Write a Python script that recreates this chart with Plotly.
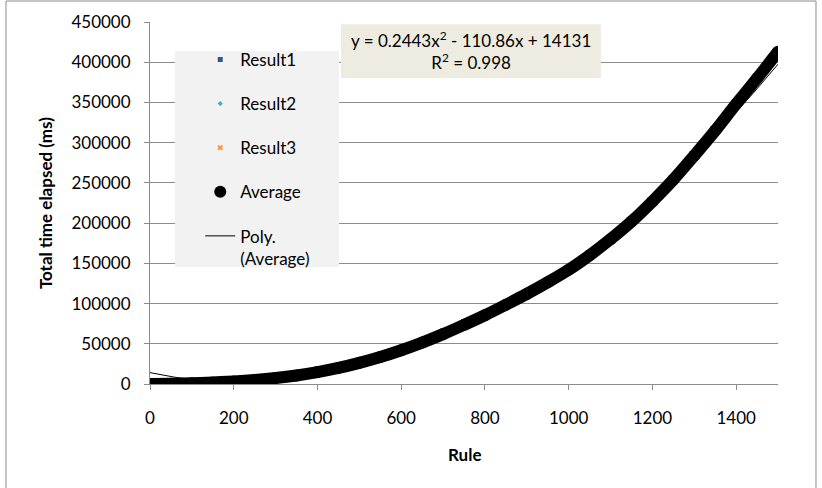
import numpy as np
import plotly.graph_objects as go

rule = [0, 50, 100, 150, 200, 250, 300, 350, 400, 450, 500, 550, 600, 650, 700, 750,
        800, 850, 900, 950, 1000, 1050, 1100, 1150, 1200, 1250, 1300, 1350, 1400, 1450, 1500]
average = [0, 400, 1000, 1900, 3200, 5000, 7400, 10600, 14800, 20000, 26300, 33600, 42000,
           51500, 62000, 73500, 85500, 98500, 112000, 126500, 142000, 160000, 180000, 202000,
           227000, 254000, 284000, 315000, 348000, 380000, 413000]
result1 = [0, 410, 980, 1950, 3150, 5100, 7300, 10800, 14600, 20300, 26100, 33900, 41700,
           51900, 61700, 73900, 85100, 99000, 111600, 127000, 141500, 160600, 179500, 202600,
           226400, 254600, 283500, 315600, 347400, 380600, 412500]
result2 = [0, 390, 1020, 1850, 3250, 4900, 7500, 10400, 15000, 19700, 26500, 33300, 42300,
           51100, 62300, 73100, 85900, 98000, 112400, 126000, 142500, 159400, 180500, 201400,
           227600, 253400, 284500, 314400, 348600, 379400, 413500]
result3 = [0, 400, 1000, 1900, 3200, 5000, 7400, 10600, 14800, 20000, 26300, 33600, 42000,
           51500, 62000, 73500, 85500, 98500, 112000, 126500, 142000, 160000, 180000, 202000,
           227000, 254000, 284000, 315000, 348000, 380000, 413000]
poly_coef = [0.2443, -110.86, 14131]   # displayed trendline equation
poly_x = np.linspace(0, 1500, 151)
poly_y = np.polyval(poly_coef, poly_x)

FONT = "Lato"
fig = go.Figure()
fig.add_trace(go.Scatter(x=rule, y=result1, mode="markers", name="Result1",
                         marker=dict(symbol="square", size=5, color="#2f5597"), legendgroup="a"))
fig.add_trace(go.Scatter(x=rule, y=result2, mode="markers", name="Result2",
                         marker=dict(symbol="diamond", size=4, color="#4bacc6"), legendgroup="b"))
fig.add_trace(go.Scatter(x=rule, y=result3, mode="markers", name="Result3",
                         marker=dict(symbol="x", size=5, color="#f79646"), legendgroup="c"))
fig.add_trace(go.Scatter(x=rule, y=average, mode="lines", showlegend=False,
                         line=dict(color="black", width=12, shape="spline", smoothing=1),
                         hoverinfo="skip"))
fig.add_trace(go.Scatter(x=rule, y=average, mode="markers", name="Average",
                         marker=dict(symbol="circle", size=12, color="black"), legendgroup="d"))
fig.add_trace(go.Scatter(x=poly_x, y=poly_y, mode="lines", name="Poly.<br>(Average)",
                         line=dict(color="black", width=1), legendgroup="e"))

fig.update_layout(
    width=822, height=488,
    margin=dict(l=150, r=44, t=22, b=104),
    paper_bgcolor="white", plot_bgcolor="white",
    font=dict(family=FONT, size=17, color="black"),
    showlegend=True,
    legend=dict(x=0.08, y=0.945, xanchor="left", yanchor="top",
                bgcolor="rgba(0,0,0,0)", tracegroupgap=19, valign="top",
                font=dict(family=FONT, size=17)),
    xaxis=dict(range=[0, 1500], dtick=200, tick0=0, showgrid=False, zeroline=False,
               showline=True, linecolor="#8c8c8c", linewidth=1,
               ticks="outside", ticklen=5, tickcolor="#8c8c8c",
               ticklabelstandoff=14, tickfont=dict(family=FONT, size=17)),
    yaxis=dict(range=[0, 450000], dtick=50000, tick0=0, tickformat="d",
               showgrid=True, gridcolor="#8c8c8c", gridwidth=1, zeroline=False,
               showline=True, linecolor="#8c8c8c", linewidth=1,
               ticks="outside", ticklen=5, tickcolor="#8c8c8c",
               ticklabelstandoff=10, tickfont=dict(family=FONT, size=17)),
    shapes=[
        dict(type="rect", xref="paper", yref="paper", x0=-0.2293, x1=1.0605, y0=-0.30, y1=1.058,
             line=dict(color="#8c8c8c", width=1), fillcolor="rgba(0,0,0,0)", layer="below"),
        dict(type="rect", xref="paper", yref="paper", x0=0.0398, x1=0.301, y0=0.323, y1=0.920,
             line=dict(width=0), fillcolor="#f2f2f2", layer="above"),
        dict(type="rect", xref="paper", yref="paper", x0=0.304, x1=0.718, y0=0.845, y1=0.994,
             line=dict(width=0), fillcolor="#eeece1", layer="above"),
    ],
    annotations=[
        dict(text="y = 0.2443x<sup>2</sup> - 110.86x + 14131<br>R<sup>2</sup> = 0.998",
             xref="paper", yref="paper", x=0.511, y=0.92, xanchor="center", yanchor="middle",
             showarrow=False, align="center", font=dict(family=FONT, size=17)),
        dict(text="<b>Rule</b>", xref="paper", yref="paper", x=0.5, y=-0.196,
             xanchor="center", yanchor="middle", showarrow=False,
             font=dict(family=FONT, size=17)),
        dict(text="<b>Total time elapsed (ms)</b>", xref="paper", yref="paper", x=-0.167, y=0.5,
             xanchor="center", yanchor="middle", textangle=-90, showarrow=False,
             font=dict(family=FONT, size=17)),
    ],
)

fig.write_html("out.html")
